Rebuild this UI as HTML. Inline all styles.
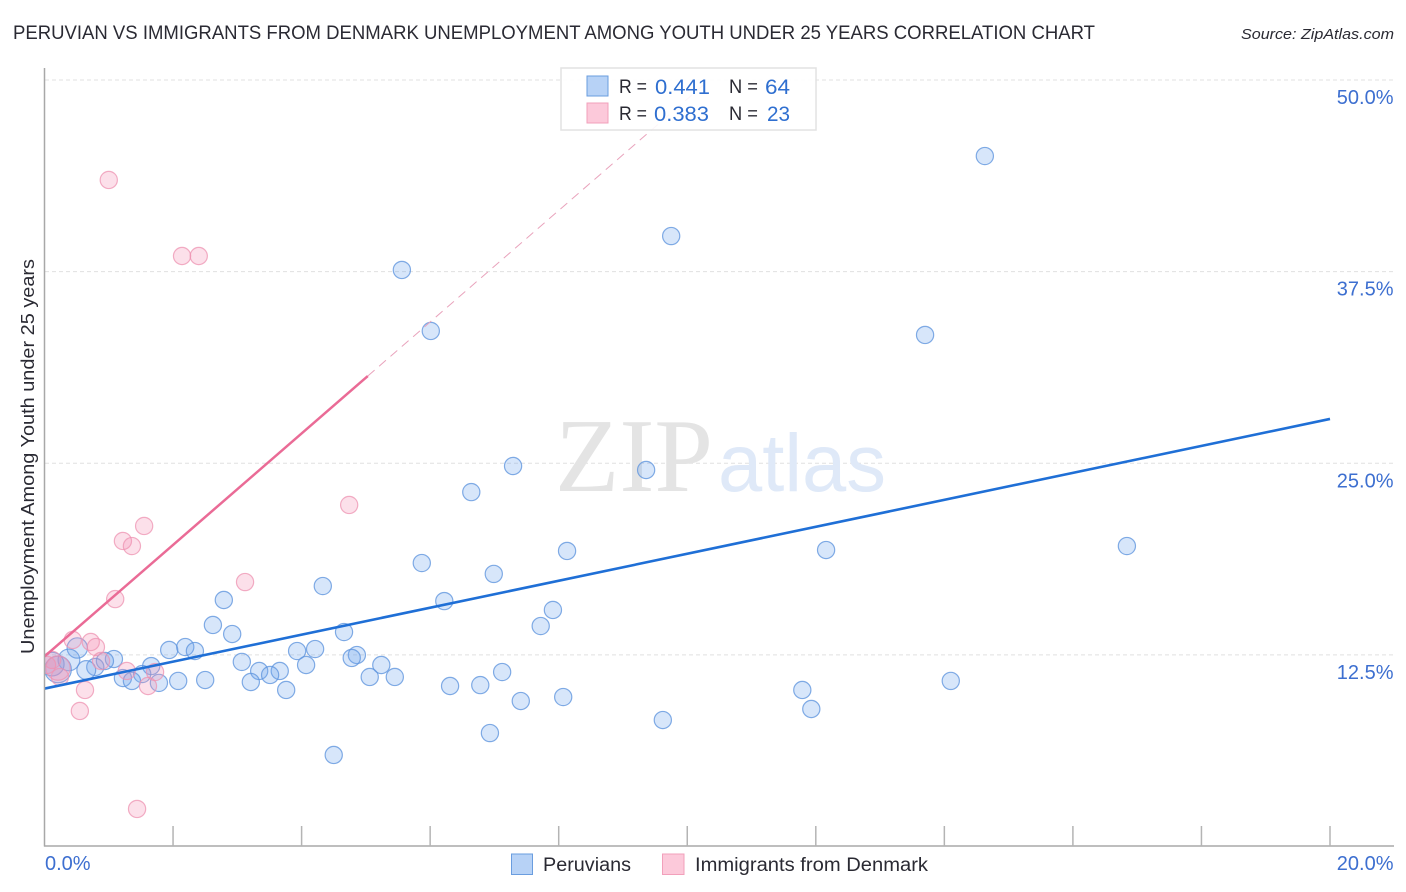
<!DOCTYPE html>
<html lang="en">
<head>
<meta charset="utf-8">
<title>Peruvian vs Immigrants from Denmark Unemployment Among Youth under 25 Years Correlation Chart</title>
<style>
html,body{margin:0;padding:0;background:#fff;}
svg{display:block;font-family:"Liberation Sans",sans-serif;}
</style>
</head>
<body>
<svg id="chart" width="1406" height="892" viewBox="0 0 1406 892" xmlns="http://www.w3.org/2000/svg">
  <defs>
    <clipPath id="plot-clip"><rect x="45" y="60" width="1349" height="786"/></clipPath>
  </defs>
  <rect x="0" y="0" width="1406" height="892" fill="#ffffff"/>
  <text x="13" y="39" font-size="19" fill="#2a2a33" textLength="1082" lengthAdjust="spacingAndGlyphs">PERUVIAN VS IMMIGRANTS FROM DENMARK UNEMPLOYMENT AMONG YOUTH UNDER 25 YEARS CORRELATION CHART</text>
  <text x="1241" y="39" font-size="15" font-style="italic" fill="#2a2a33" textLength="153" lengthAdjust="spacingAndGlyphs">Source: ZipAtlas.com</text>
  <text transform="translate(34,654) rotate(-90)" x="0" y="0" font-size="18" fill="#2a2a33" textLength="395" lengthAdjust="spacingAndGlyphs">Unemployment Among Youth under 25 years</text>

  <g id="grid"></g>

  <g>
    <text x="555" y="491" font-family="'Liberation Serif',serif" font-size="105" fill="#e4e4e4" textLength="158" lengthAdjust="spacingAndGlyphs">ZIP</text>
    <text x="718" y="491" font-size="82" fill="#dfe9f8" textLength="168" lengthAdjust="spacingAndGlyphs">atlas</text>
  </g>

  <g id="points" clip-path="url(#plot-clip)"></g>
  <g id="trends" clip-path="url(#plot-clip)"></g>
  <g id="axes"></g>

  <g>
    <rect x="561" y="68" width="255" height="62" fill="#ffffff" fill-opacity="0.9" stroke="#e2e2e2" stroke-width="1.5"/>
    <rect x="587" y="76" width="21" height="20" fill="#b7d2f6" stroke="#6a9ddf" stroke-width="1"/>
    <rect x="587" y="103" width="21" height="20" fill="#fcc9da" stroke="#f2a0bb" stroke-width="1"/>
    <g font-size="19" fill="#2a2a33">
      <text x="619" y="93" textLength="28" lengthAdjust="spacingAndGlyphs">R =</text>
      <text x="729" y="93" textLength="29" lengthAdjust="spacingAndGlyphs">N =</text>
      <text x="619" y="120" textLength="28" lengthAdjust="spacingAndGlyphs">R =</text>
      <text x="729" y="120" textLength="29" lengthAdjust="spacingAndGlyphs">N =</text>
    </g>
    <g font-size="21" fill="#2f6fd0">
      <text x="655" y="94" textLength="55" lengthAdjust="spacingAndGlyphs">0.441</text>
      <text x="765" y="94" textLength="25" lengthAdjust="spacingAndGlyphs">64</text>
      <text x="654" y="121" textLength="55" lengthAdjust="spacingAndGlyphs">0.383</text>
      <text x="767" y="121" textLength="23" lengthAdjust="spacingAndGlyphs">23</text>
    </g>
  </g>

  <g>
    <rect x="511.500" y="854" width="21" height="20.500" fill="#b7d2f6" stroke="#6a9ddf" stroke-width="1"/>
    <text x="543" y="871" font-size="19" fill="#2a2a33" textLength="88" lengthAdjust="spacingAndGlyphs">Peruvians</text>
    <rect x="662.500" y="854" width="21.500" height="20.500" fill="#fcc9da" stroke="#f2a0bb" stroke-width="1"/>
    <text x="695" y="871" font-size="19" fill="#2a2a33" textLength="233" lengthAdjust="spacingAndGlyphs">Immigrants from Denmark</text>
  </g>
</svg>

<script>
const xTickValues = [0, 2, 4, 6, 8, 10, 12, 14, 16, 18, 20];
const xTickLabels = ["0.0%", "20.0%"];
const yTickValues = [12.5, 25, 37.5, 50];
const yTickLabels = ["12.5%", "25.0%", "37.5%", "50.0%"];

const peruvianX = [14.63,9.75,5.56,6.01,13.70,7.29,9.36,6.64,8.13,12.16,16.84,5.87,6.99,4.33,6.22,2.79,7.91,7.72,2.62,2.92,4.66,0.51,1.94,2.19,2.34,3.93,4.21,4.86,4.78,1.08,3.07,4.07,5.24,0.94,1.66,0.79,0.65,3.34,3.66,3.51,5.06,5.45,1.22,1.52,1.36,1.78,2.08,2.50,3.21,3.76,6.31,6.78,7.12,8.07,7.41,11.79,11.93,14.10,9.62,6.93,4.50,0.38,0.12,0.21];
const peruvianY = [45.04,39.82,37.61,33.63,33.37,24.82,24.56,23.12,19.28,19.34,19.60,18.49,17.78,16.99,16.01,16.08,15.43,14.38,14.45,13.86,13.99,12.95,12.82,13.01,12.75,12.75,12.88,12.49,12.30,12.23,12.04,11.84,11.84,12.10,11.77,11.71,11.51,11.45,11.45,11.19,11.06,11.06,10.99,11.25,10.80,10.67,10.80,10.86,10.73,10.21,10.47,10.53,11.38,9.75,9.49,10.21,8.97,10.80,8.25,7.40,5.97,12.17,11.90,11.55];
const peruvianWeight = [1,1,1,1,1,1,1,1,1,1,1,1,1,1,1,1,1,1,1,1,1,1.4,1,1,1,1,1,1,1,1,1,1,1,1,1,1,1.2,1,1,1,1,1,1,1,1,1,1,1,1,1,1,1,1,1,1,1,1,1,1,1,1,1.6,1.9,2.4];

const denmarkX = [1.00,2.14,2.40,4.74,1.55,1.22,1.36,3.12,1.10,0.44,0.72,0.80,0.88,1.28,1.72,1.61,0.63,0.55,1.44,0.12,0.04,0.24,0.21];
const denmarkY = [43.48,38.52,38.52,22.28,20.91,19.93,19.60,17.25,16.14,13.47,13.34,13.01,12.10,11.45,11.38,10.47,10.21,8.84,2.45,12.17,11.84,11.06,11.64];
const denmarkWeight = [1,1,1,1,1,1,1,1,1,1,1,1,1,1,1,1,1,1,1,1,1,1,2];

const peruvianTrendX = [0, 20];
const peruvianTrendY = [10.3, 27.89];
const denmarkTrendX = [0, 5.03];
const denmarkTrendY = [12.4, 30.69];
const denmarkProjectionX = [5.03, 10.3];
const denmarkProjectionY = [30.69, 49.85];

const SVGNS = 'http://www.w3.org/2000/svg';
const xScale = function (v) { return 44.5 + v * 64.275; };
const yScale = function (v) { return 846.5 - v * 15.33; };

function make(tag, parent, attrs) {
  const el = document.createElementNS(SVGNS, tag);
  for (const k in attrs) { el.setAttribute(k, attrs[k]); }
  parent.appendChild(el);
  return el;
}

const grid = document.getElementById('grid');
yTickValues.forEach(function (v, i) {
  const line = make('line', grid, { x1: 45, x2: 1394, y1: yScale(v), y2: yScale(v), stroke: '#e0e0e0', 'stroke-width': 1, 'stroke-dasharray': '4 3' });
  
  
  const label = make('text', grid, { x: 1393.5, y: yScale(v) + 24, 'text-anchor': 'end', 'font-size': 20, fill: '#3d6fd0' });
  
  
  label.textContent = yTickLabels[i];
});

const axes = document.getElementById('axes');
const yAxisLine = make('line', axes, { x1: 44.5, x2: 44.5, y1: 68, y2: 846.5, stroke: '#a8a8a8', 'stroke-width': 1.5 });


const xAxisLine = make('line', axes, { x1: 44, x2: 1394, y1: 846, y2: 846, stroke: '#a8a8a8', 'stroke-width': 1.5 });


xTickValues.slice(1).forEach(function (v) {
  const tick = make('line', axes, { x1: xScale(v), x2: xScale(v), y1: 826, y2: 846, stroke: '#b4b4b4', 'stroke-width': 1.5 });
  
  
});
const xLabelStart = make('text', axes, { x: 45, y: 870, 'font-size': 20, fill: '#3d6fd0' });


xLabelStart.textContent = xTickLabels[0];
const xLabelEnd = make('text', axes, { x: 1393.5, y: 870, 'text-anchor': 'end', 'font-size': 20, fill: '#3d6fd0' });


xLabelEnd.textContent = xTickLabels[1];

const pointsGroup = document.getElementById('points');
peruvianX.forEach(function (x, i) {
  const c = make('circle', pointsGroup, { cx: xScale(x), cy: yScale(peruvianY[i]), r: 8.6 * Math.sqrt(peruvianWeight[i]), fill: '#6ea4ec', 'fill-opacity': 0.28, stroke: '#5f95de', 'stroke-opacity': 0.78, 'stroke-width': 1.2 });
  
  
});
denmarkX.forEach(function (x, i) {
  const c = make('circle', pointsGroup, { cx: xScale(x), cy: yScale(denmarkY[i]), r: 8.6 * Math.sqrt(denmarkWeight[i]), fill: '#f490b2', 'fill-opacity': 0.28, stroke: '#ee93b2', 'stroke-opacity': 0.75, 'stroke-width': 1.2 });
  
  
});

const trends = document.getElementById('trends');
const denmarkProjection = make('line', trends, { x1: xScale(denmarkProjectionX[0]), y1: yScale(denmarkProjectionY[0]), x2: xScale(denmarkProjectionX[1]), y2: yScale(denmarkProjectionY[1]), stroke: '#e9a3bc', 'stroke-width': 1, 'stroke-dasharray': '9 6' });


const denmarkTrend = make('line', trends, { x1: xScale(denmarkTrendX[0]), y1: yScale(denmarkTrendY[0]), x2: xScale(denmarkTrendX[1]), y2: yScale(denmarkTrendY[1]), stroke: '#ea6b96', 'stroke-width': 2.5 });


const peruvianTrend = make('line', trends, { x1: xScale(peruvianTrendX[0]), y1: yScale(peruvianTrendY[0]), x2: xScale(peruvianTrendX[1]), y2: yScale(peruvianTrendY[1]), stroke: '#1f6fd6', 'stroke-width': 2.6 });


</script>
</body>
</html>
